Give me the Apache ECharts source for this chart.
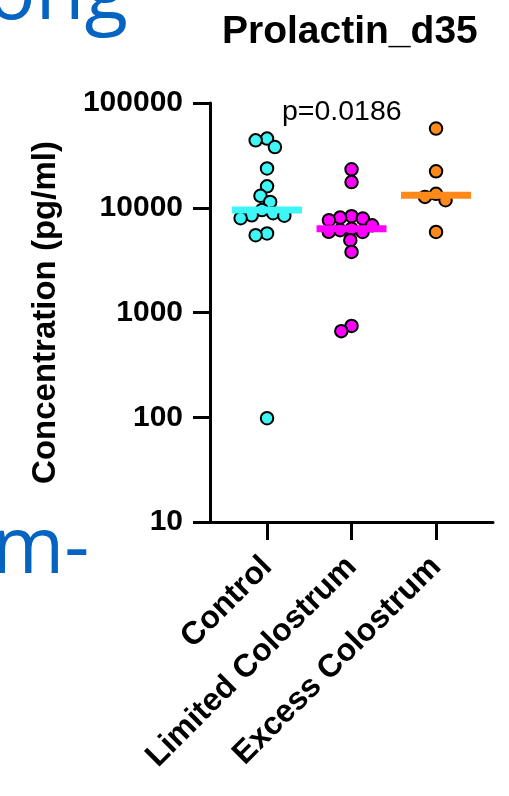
<!DOCTYPE html>
<html>
<head>
<meta charset="utf-8">
<script src="https://cdn.jsdelivr.net/npm/echarts@6/dist/echarts.min.js"></script>
<style>
html,body{margin:0;padding:0;background:#fff;}
#chart{width:509px;height:796px;}
</style>
</head>
<body>
<div id="chart"></div>
<script>
// ---- data ----
const categories = ['Control', 'Limited Colostrum', 'Excess Colostrum'];
const controlValues = [45700, 44000, 38000, 23700, 16000, 13000, 11350, 9500, 8870, 8480, 7950, 8400, 5680, 5470, 98];
const limitedValues = [23300, 17600, 8300, 8050, 7890, 7600, 6800, 6300, 6100, 5900, 5870, 4900, 3790, 745, 664];
const excessValues = [57000, 22300, 13600, 12700, 11800, 5870];
const yTickValues = [10, 100, 1000, 10000, 100000];
const pValueText = 'p=0.0186';
const titleText = 'Prolactin_d35';
const yAxisTitle = 'Concentration (pg/ml)';

const groups = [controlValues, limitedValues, excessValues];
const colors = ['#3ef6f6', '#ff00ff', '#ff8a1a'];

const chart = echarts.init(document.getElementById('chart'), null, {renderer: 'canvas'});
const FONT = "'Liberation Sans', Arial, sans-serif";

function median(arr) {
  const s = arr.slice().sort((a, b) => a - b);
  const n = s.length;
  return n % 2 ? s[(n - 1) / 2] : (s[n / 2 - 1] + s[n / 2]) / 2;
}

const base = {
  animation: false,
  grid: {left: 210, right: 16, top: 103, bottom: 274, containLabel: false},
  xAxis: {
    type: 'value', min: -0.675, max: 2.674,
    axisLine: {show: true, onZero: false, lineStyle: {color: '#000', width: 3}},
    axisTick: {show: true, customValues: [0, 1, 2], length: 18, lineStyle: {color: '#000', width: 3}},
    axisLabel: {
      customValues: [0, 1, 2], rotate: 45, margin: 40,
      formatter: v => categories[Math.round(v)] || '',
      fontSize: 32, fontWeight: 'bold', color: '#000', fontFamily: FONT
    },
    splitLine: {show: false}
  },
  yAxis: {
    type: 'log', logBase: 10, min: 10, max: 100000,
    name: yAxisTitle, nameLocation: 'middle', nameRotate: 90, nameGap: 148,
    nameTextStyle: {fontSize: 33, fontWeight: 'bold', color: '#000', fontFamily: FONT},
    axisLine: {show: true, onZero: false, lineStyle: {color: '#000', width: 3}},
    axisTick: {show: true, length: 17, lineStyle: {color: '#000', width: 3}},
    minorTick: {show: false},
    axisLabel: {
      margin: 27, fontSize: 30, fontWeight: 'bold', color: '#000', fontFamily: FONT,
      formatter: v => String(Math.round(v))
    },
    splitLine: {show: false}
  },
  graphic: [
    {type: 'text', left: 222, top: 13, style: {text: titleText, font: "bold 39px " + FONT, fill: '#000'}},
    {type: 'text', left: 282, top: 98, style: {text: pValueText, font: "28.5px " + FONT, fill: '#000'}},
    {type: 'text', right: 381, top: -44, style: {text: 'ong', font: "80px 'Open Sans', sans-serif", fill: '#0563c1'}},
    {type: 'text', left: -8, top: 512, style: {text: 'm-', font: "78px 'Open Sans', sans-serif", fill: '#0563c1'}}
  ],
  series: []
};
chart.setOption(base);

// beeswarm layout computed from the values through the axis scales
function swarm(ys, d) {
  const order = ys.map((y, i) => i).sort((a, b) => ys[a] - ys[b]);
  const placed = [];
  const xs = new Array(ys.length);
  for (const i of order) {
    const y = ys[i];
    const near = placed.filter(p => Math.abs(p.y - y) < d);
    const cands = [0];
    near.forEach(p => {
      const dx = Math.sqrt(d * d - (p.y - y) * (p.y - y));
      cands.push(p.x + dx, p.x - dx);
    });
    cands.sort((a, b) => (Math.abs(a) - Math.abs(b)) || (a - b));
    const x = cands.find(c => near.every(p => (p.x - c) * (p.x - c) + (p.y - y) * (p.y - y) >= d * d - 1e-6));
    xs[i] = x;
    placed.push({x, y});
  }
  return xs;
}

const px0 = chart.convertToPixel({gridIndex: 0}, [0, 1000]);
const px1 = chart.convertToPixel({gridIndex: 0}, [1, 1000]);
const pxPerUnit = px1[0] - px0[0];
const DIAM = 11.5;
const series = [];

groups.forEach((vals, gi) => {
  const ys = vals.map(v => chart.convertToPixel({gridIndex: 0}, [gi, v])[1]);
  const offs = swarm(ys, DIAM);
  series.push({
    type: 'scatter', symbol: 'circle', symbolSize: 12.5, z: 2,
    itemStyle: {color: colors[gi], borderColor: '#000', borderWidth: 2, opacity: 1},
    data: vals.map((v, i) => [gi + offs[i] / pxPerUnit, v])
  });
});
groups.forEach((vals, gi) => {
  const m = median(vals);
  const hw = 35 / pxPerUnit;
  series.push({
    type: 'line', symbol: 'none', z: 3, silent: true,
    lineStyle: {color: colors[gi], width: 7, cap: 'butt'},
    data: [[gi - hw, m], [gi + hw, m]]
  });
});
chart.setOption({series});
</script>
</body>
</html>
